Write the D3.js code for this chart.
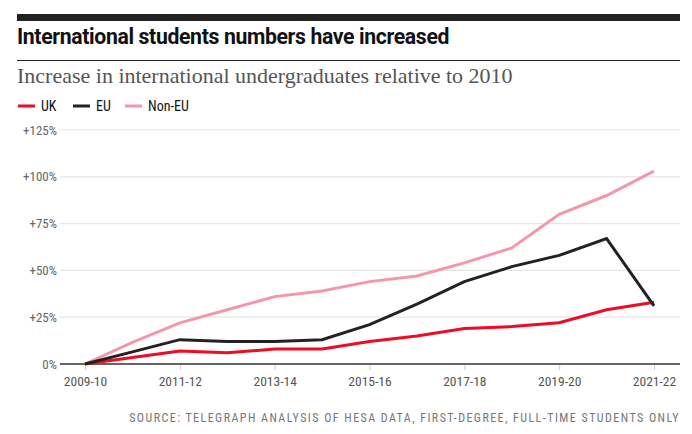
<!DOCTYPE html>
<html><head><meta charset="utf-8">
<script src="https://cdn.jsdelivr.net/npm/d3@7"></script>
<style>
body{margin:0;background:#fff;}
svg{display:block;}
</style></head>
<body><svg id="c" width="692" height="434"></svg>
<script>
const years = ["2009-10","2010-11","2011-12","2012-13","2013-14","2014-15","2015-16","2016-17","2017-18","2018-19","2019-20","2020-21","2021-22"];
const tickYears = ["2009-10","2011-12","2013-14","2015-16","2017-18","2019-20","2021-22"];
const ukValues = [0,3.5,7,6,8,8,12,15,19,20,22,29,33];
const euValues = [0,6.5,13,12,12,13,21,32,44,52,58,67,31];
const nonEuValues = [0,11.5,22,29,36,39,44,47,54,62,80,90,103];
const yTicks = [0,25,50,75,100,125];
const seriesNames = ["UK","EU","Non-EU"];
const colors = {"UK":"#ee0b25","EU":"#222222","Non-EU":"#f497ac"};

const svg = d3.select("#c");
const cond = "'Liberation Sans Narrow','Roboto Condensed','Arial Narrow',sans-serif";

svg.append("rect").attr("x",17).attr("y",14).attr("width",663).attr("height",7).attr("fill","#222");
svg.append("text").attr("x",17).attr("y",44).text("International students numbers have increased")
  .attr("font-family","Roboto, sans-serif").attr("font-weight",700).attr("font-size",21.2).attr("letter-spacing",-0.35).attr("fill","#111");
svg.append("rect").attr("x",17).attr("y",60).attr("width",663).attr("height",1).attr("fill","#222");
svg.append("text").attr("x",17).attr("y",83).text("Increase in international undergraduates relative to 2010")
  .attr("font-family","'Liberation Serif', serif").attr("font-size",22).attr("fill","#555");

// legend
const lg = svg.append("g");
let lx = 18;
const legendW = {"UK":55,"EU":52,"Non-EU":60};
seriesNames.forEach(n=>{
  lg.append("line").attr("x1",lx).attr("x2",lx+17).attr("y1",106).attr("y2",106).attr("stroke",colors[n]).attr("stroke-width",3);
  lg.append("text").attr("x",lx+23).attr("y",111).text(n).attr("font-family",cond).attr("font-size",14).attr("fill","#111");
  lx += legendW[n];
});

const x = d3.scalePoint().domain(years).range([85,654]);
const y = d3.scaleLinear().domain([0,125]).range([364,130]);

// grid
const gy = svg.append("g");
yTicks.forEach(t=>{
  if(t>0) gy.append("line").attr("x1",60).attr("x2",680).attr("y1",y(t)).attr("y2",y(t)).attr("stroke","#e6e6e6").attr("stroke-width",1.2);
  gy.append("text").attr("x",57).attr("y",y(t)+4.5).attr("text-anchor","end").text(t===0?"0%":"+"+t+"%")
    .attr("font-family",cond).attr("font-size",13).attr("fill","#666");
});

// x axis
const xa = svg.append("g").attr("transform","translate(0,364)")
  .call(d3.axisBottom(x).tickValues(tickYears).tickSize(6).tickPadding(6));
xa.select(".domain").remove();
xa.selectAll(".tick line").attr("stroke","#ccc");
xa.selectAll(".tick text").attr("font-family",cond).attr("font-size",13.5).attr("fill","#555");
svg.append("line").attr("x1",60).attr("x2",680).attr("y1",364).attr("y2",364).attr("stroke","#333").attr("stroke-width",1.3);

const data = {"UK":ukValues,"EU":euValues,"Non-EU":nonEuValues};
const line = d3.line().x((d,i)=>x(years[i])).y(d=>y(d));
["Non-EU","UK","EU"].forEach(n=>{
  svg.append("path").datum(data[n]).attr("d",line).attr("fill","none").attr("stroke",colors[n]).attr("stroke-width",3).attr("stroke-linejoin","miter");
});

svg.append("text").attr("x",680).attr("y",422).attr("text-anchor","end")
  .text("SOURCE: TELEGRAPH ANALYSIS OF HESA DATA, FIRST-DEGREE, FULL-TIME STUDENTS ONLY")
  .attr("font-family",cond).attr("font-size",12).attr("letter-spacing",1.45).attr("fill","#777");
</script></body></html>
